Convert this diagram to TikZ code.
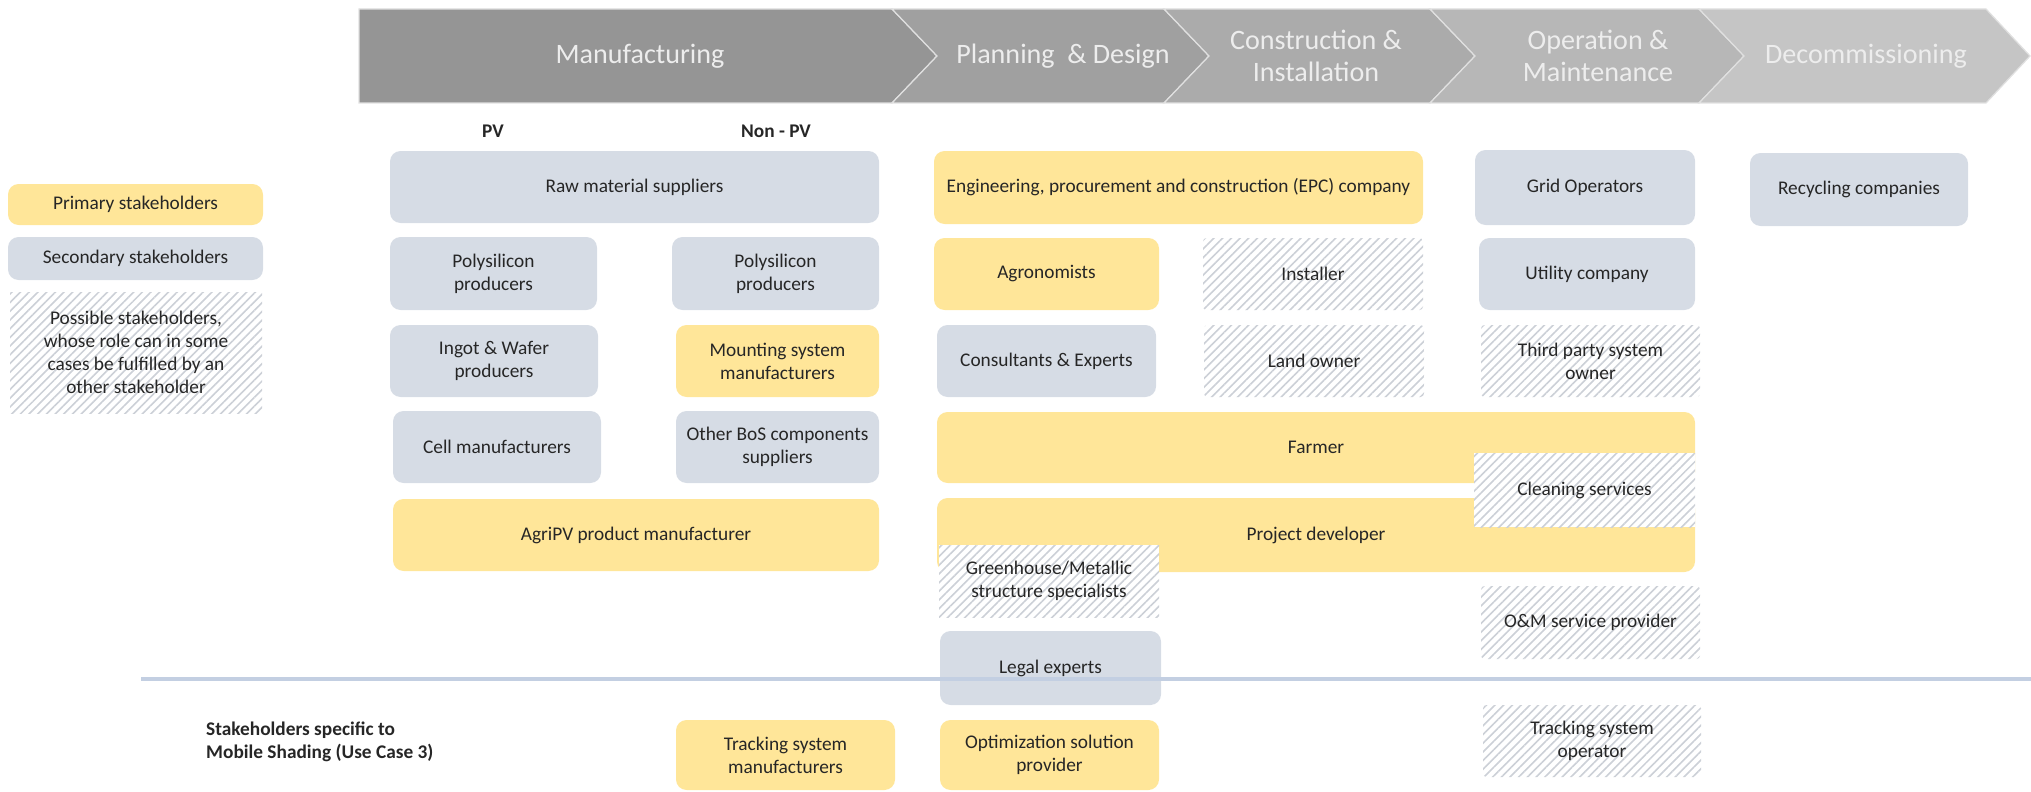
\documentclass[tikz,border=0pt]{standalone}
\usepackage{fontspec}
\setsansfont{Carlito}
\usetikzlibrary{patterns.meta}
\definecolor{cyellow}{HTML}{FFE699}
\definecolor{cblue}{HTML}{D6DCE5}
\definecolor{ctext}{HTML}{262626}
\definecolor{chatch}{HTML}{CCD0D7}
\definecolor{cline}{HTML}{C3CFE2}
\definecolor{phA}{HTML}{959595}
\definecolor{phB}{HTML}{A0A0A0}
\definecolor{phC}{HTML}{ABABAB}
\definecolor{phD}{HTML}{B7B7B7}
\definecolor{phE}{HTML}{C5C5C5}
\tikzset{
  every picture/.style={font=\sffamily},
  box/.style={fill=#1, rounded corners=6pt, align=center, inner sep=2pt, text=ctext, font=\sffamily\fontsize{11}{13}\selectfont},
  box/.default=cblue,
  prim/.style={box=cyellow},
  sec/.style={box=cblue},
  poss/.style={rounded corners=2pt, align=center, inner sep=2pt, text=ctext, font=\sffamily\fontsize{11}{13}\selectfont,
    preaction={fill=white}, pattern={Lines[angle=45, distance=3.5pt, line width=0.9pt]}, pattern color=chatch},
  phase/.style={draw=white!88!black, line width=0.7pt},
  phasetext/.style={font=\sffamily\fontsize{16}{18}\selectfont, text=white!93!black, align=center},
  colhead/.style={font=\sffamily\bfseries\fontsize{11}{13}\selectfont, text=ctext},
}

\begin{document}
\begin{tikzpicture}
  \useasboundingbox (0,0) rectangle (40.62,-15.82);
  % life-cycle phases
  \fill[phA, phase] (7.18,-0.18) -- (17.84,-0.18) -- (18.74,-1.12) -- (17.84,-2.06) -- (7.18,-2.06) -- cycle;
  \fill[phB, phase] (17.84,-0.18) -- (23.28,-0.18) -- (24.18,-1.12) -- (23.28,-2.06) -- (17.84,-2.06) -- (18.74,-1.12) -- cycle;
  \fill[phC, phase] (23.28,-0.18) -- (28.60,-0.18) -- (29.50,-1.12) -- (28.60,-2.06) -- (23.28,-2.06) -- (24.18,-1.12) -- cycle;
  \fill[phD, phase] (28.60,-0.18) -- (33.98,-0.18) -- (34.88,-1.12) -- (33.98,-2.06) -- (28.60,-2.06) -- (29.50,-1.12) -- cycle;
  \fill[phE, phase] (33.98,-0.18) -- (39.72,-0.18) -- (40.60,-1.12) -- (39.72,-2.06) -- (33.98,-2.06) -- (34.88,-1.12) -- cycle;
  \node[phasetext] (manu) at (12.8,-1.12) {Manufacturing};
  \node[phasetext] (plan) at (21.26,-1.12) {Planning\ \ \& Design};
  \node[phasetext] (constr) at (26.32,-1.12) {Construction \&\\Installation};
  \node[phasetext] (oper) at (31.96,-1.12) {Operation \&\\Maintenance};
  \node[phasetext] (decom) at (37.32,-1.12) {Decommissioning};

  % legend
  \node[prim, minimum width=5.1cm, minimum height=0.82cm] (lprim) at (2.71,-4.09) {Primary stakeholders};
  \node[sec, minimum width=5.1cm, minimum height=0.86cm] (lsec) at (2.71,-5.17) {Secondary stakeholders};
  \node[poss, rounded corners=0pt, minimum width=5.04cm, minimum height=2.42cm] (lposs) at (2.72,-7.05)
    {Possible stakeholders,\\whose role can in some\\cases be fulfilled by an\\other stakeholder};

  % manufacturing
  \node[colhead] (pv) at (9.86,-2.62) {PV};
  \node[colhead] (npv) at (15.52,-2.62) {Non - PV};
  \node[sec, minimum width=9.78cm, minimum height=1.44cm] (raw) at (12.69,-3.74) {Raw material suppliers};
  \node[sec, minimum width=4.14cm, minimum height=1.46cm] (poly1) at (9.87,-5.47) {Polysilicon\\producers};
  \node[sec, minimum width=4.14cm, minimum height=1.46cm] (poly2) at (15.51,-5.47) {Polysilicon\\producers};
  \node[sec, minimum width=4.16cm, minimum height=1.44cm] (ingot) at (9.88,-7.22) {Ingot \& Wafer\\producers};
  \node[prim, minimum width=4.06cm, minimum height=1.44cm] (mount) at (15.55,-7.22) {Mounting system\\manufacturers};
  \node[sec, minimum width=4.16cm, minimum height=1.44cm] (cell) at (9.94,-8.94) {Cell manufacturers};
  \node[sec, minimum width=4.06cm, minimum height=1.44cm] (bos) at (15.55,-8.94) {Other BoS components\\suppliers};
  \node[prim, minimum width=9.72cm, minimum height=1.44cm] (agri) at (12.72,-10.7) {AgriPV product manufacturer};

  % planning, construction, operation
  \node[prim, minimum width=9.78cm, minimum height=1.46cm] (epc) at (23.57,-3.75) {Engineering, procurement and construction (EPC) company};
  \node[prim, minimum width=4.5cm, minimum height=1.44cm] (agro) at (20.93,-5.48) {Agronomists};
  \node[poss, minimum width=4.4cm, minimum height=1.44cm] (inst) at (26.26,-5.48) {Installer};
  \node[sec, minimum width=4.38cm, minimum height=1.44cm] (cons) at (20.93,-7.22) {Consultants \& Experts};
  \node[poss, minimum width=4.4cm, minimum height=1.44cm] (land) at (26.28,-7.22) {Land owner};
  \node[prim, minimum width=15.16cm, minimum height=1.42cm] (farmer) at (26.32,-8.95) {Farmer};
  \node[prim, minimum width=15.16cm, minimum height=1.48cm] (projdev) at (26.32,-10.7) {Project developer};
  \node[poss, rounded corners=0pt, minimum width=4.4cm, minimum height=1.44cm] (green) at (20.98,-11.62) {Greenhouse/Metallic\\structure specialists};
  \node[sec, minimum width=4.42cm, minimum height=1.48cm] (legal) at (21.01,-13.36) {Legal experts};
  \node[sec, minimum width=4.4cm, minimum height=1.5cm] (grid) at (31.7,-3.75) {Grid Operators};
  \node[sec, minimum width=4.32cm, minimum height=1.44cm] (util) at (31.74,-5.48) {Utility company};
  \node[poss, minimum width=4.38cm, minimum height=1.44cm] (third) at (31.81,-7.22) {Third party system\\owner};
  \node[poss, rounded corners=0pt, minimum width=4.42cm, minimum height=1.48cm] (clean) at (31.69,-9.8) {Cleaning services};
  \node[poss, minimum width=4.38cm, minimum height=1.46cm] (om) at (31.81,-12.45) {O\&M service provider};
  \node[sec, minimum width=4.36cm, minimum height=1.46cm] (recyc) at (37.18,-3.79) {Recycling companies};

  % mobile shading
  \coordinate (sepL) at (2.82,-13.58);
  \coordinate (sepR) at (40.62,-13.58);
  \draw[cline, line width=2.3pt] (sepL) -- (sepR);
  \node[colhead, anchor=west, align=left] (mobile) at (4.0,-14.84) {Stakeholders specific to\\Mobile Shading (Use Case 3)};
  \node[prim, minimum width=4.38cm, minimum height=1.4cm] (trkman) at (15.71,-15.1) {Tracking system\\manufacturers};
  \node[prim, minimum width=4.38cm, minimum height=1.4cm] (optim) at (20.99,-15.1) {Optimization solution\\provider};
  \node[poss, minimum width=4.36cm, minimum height=1.44cm] (trkop) at (31.84,-14.82) {Tracking system\\operator};
\end{tikzpicture}
\end{document}
